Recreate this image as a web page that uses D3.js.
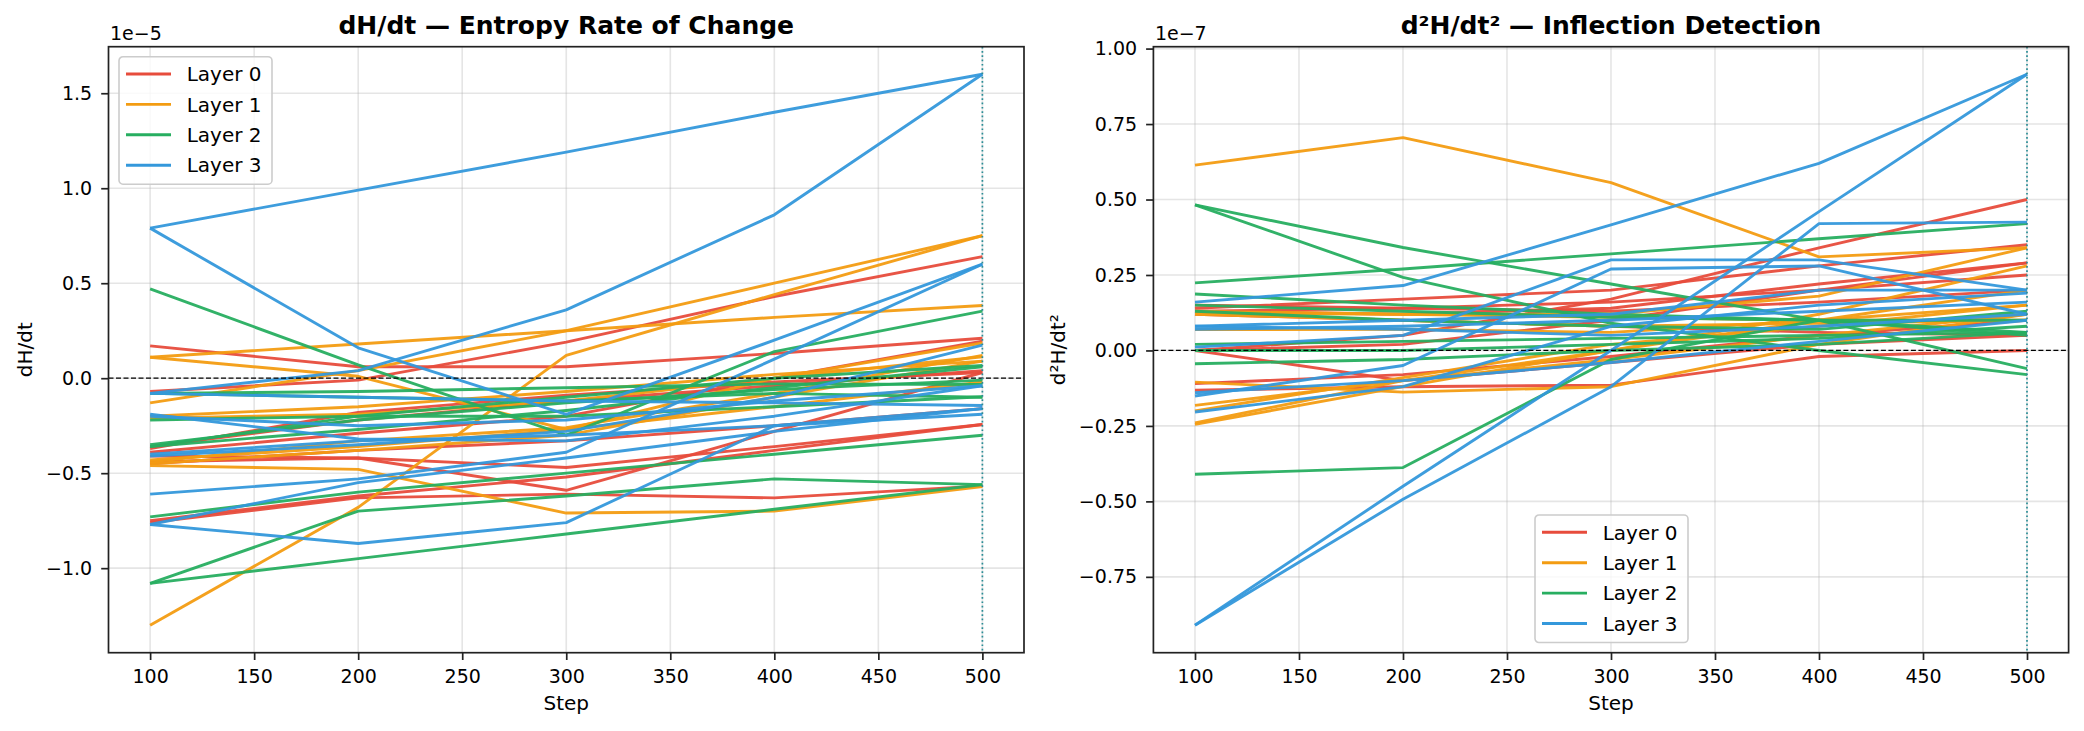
<!DOCTYPE html>
<html lang="en">
<head>
<meta charset="utf-8">
<title>Entropy derivatives</title>
<script src="https://cdn.jsdelivr.net/npm/d3@7"></script>
<style>
  body { margin: 0; background: #fff; }
  svg { display: block; font-family: "DejaVu Sans", sans-serif; }
</style>
</head>
<body>
<div id="chart"></div>
<script>
// ---- data ----
var steps = [100, 200, 300, 400, 500];
var layerNames = ["Layer 0", "Layer 1", "Layer 2", "Layer 3"];
var markerStep = 500;

// dH/dt, units of 1e-5, one row per head
var dHdt_L0 = [
    [0.17, 0.06, 0.06, 0.13, 0.21],
    [-0.07, -0.01, 0.19, 0.43, 0.64],
    [-0.37, -0.18, -0.09, -0.02, 0.03],
    [-0.39, -0.29, -0.20, 0.00, 0.195],
    [-0.44, -0.42, -0.47, -0.36, -0.244],
    [-0.76, -0.63, -0.61, -0.63, -0.567],
    [-0.75, -0.62, -0.52, -0.38, -0.244],
    [-0.41, -0.42, -0.59, -0.28, 0.03],
    [-0.36, -0.22, -0.12, -0.04, 0.04],
    [-0.45, -0.38, -0.33, -0.25, -0.16]
];
var dHdt_L1 = [
    [0.11, 0.18, 0.25, 0.32, 0.383],
    [-1.30, -0.68, 0.12, 0.44, 0.75],
    [-0.13, 0.04, 0.25, 0.50, 0.75],
    [0.11, 0.01, -0.27, 0.00, 0.185],
    [-0.21, -0.19, -0.12, 0.00, 0.113],
    [-0.45, -0.38, -0.30, -0.10, 0.09],
    [-0.46, -0.48, -0.71, -0.70, -0.57],
    [-0.44, -0.33, -0.26, -0.08, 0.12],
    [-0.43, -0.36, -0.27, -0.15, -0.02],
    [-0.20, -0.15, -0.07, 0.02, 0.09]
];
var dHdt_L2 = [
    [0.47, 0.07, -0.30, 0.14, 0.353],
    [-0.08, -0.07, -0.05, -0.03, -0.033],
    [-0.22, -0.20, -0.20, -0.15, -0.098],
    [-0.36, -0.20, -0.10, 0.00, 0.067],
    [-0.73, -0.60, -0.50, -0.40, -0.30],
    [-1.08, -0.70, -0.62, -0.53, -0.56],
    [-1.08, -0.95, -0.82, -0.69, -0.56],
    [-0.36, -0.27, -0.17, -0.05, 0.06],
    [-0.08, -0.10, -0.12, -0.08, -0.10],
    [-0.35, -0.22, -0.13, -0.06, -0.01]
];
var dHdt_L3 = [
    [0.79, 0.99, 1.19, 1.40, 1.60],
    [0.79, 0.16, -0.19, 0.20, 0.60],
    [-0.08, 0.04, 0.36, 0.86, 1.60],
    [-0.77, -0.87, -0.76, -0.25, -0.16],
    [-0.61, -0.53, -0.39, 0.10, 0.60],
    [-0.41, -0.35, -0.28, -0.10, 0.174],
    [-0.19, -0.32, -0.33, -0.20, -0.04],
    [-0.08, -0.10, -0.12, -0.13, -0.144],
    [-0.77, -0.55, -0.42, -0.28, -0.16],
    [-0.40, -0.33, -0.30, -0.25, -0.19],
    [-0.20, -0.25, -0.22, -0.12, -0.04]
];

// d2H/dt2, units of 1e-7
var d2H_L0 = [
    [0.00, 0.05, 0.17, 0.34, 0.50],
    [0.14, 0.17, 0.20, 0.28, 0.35],
    [0.13, 0.12, 0.14, 0.22, 0.29],
    [0.12, 0.10, 0.08, 0.06, 0.05],
    [0.00, -0.10, -0.04, 0.02, 0.05],
    [-0.132, -0.12, -0.115, -0.02, 0.00],
    [0.00, 0.02, 0.10, 0.20, 0.29],
    [0.15, 0.14, 0.13, 0.16, 0.20],
    [0.13, 0.14, 0.16, 0.20, 0.25],
    [-0.11, -0.08, -0.02, 0.05, 0.10]
];
var d2H_L1 = [
    [0.614, 0.705, 0.556, 0.31, 0.34],
    [0.123, 0.12, 0.11, 0.10, 0.10],
    [0.069, 0.07, 0.06, 0.10, 0.15],
    [-0.105, -0.138, -0.12, 0.02, 0.12],
    [-0.182, -0.10, -0.03, 0.05, 0.12],
    [-0.245, -0.12, 0.00, 0.10, 0.20],
    [-0.24, -0.10, 0.00, 0.12, 0.28],
    [0.13, 0.12, 0.12, 0.18, 0.34],
    [-0.20, -0.09, 0.02, 0.08, 0.15],
    [0.12, 0.10, 0.08, 0.09, 0.10]
];
var d2H_L2 = [
    [0.482, 0.341, 0.22, 0.10, -0.06],
    [0.482, 0.242, 0.09, 0.00, -0.08],
    [0.224, 0.27, 0.32, 0.37, 0.42],
    [0.187, 0.15, 0.12, 0.10, 0.05],
    [-0.41, -0.388, -0.03, 0.10, 0.06],
    [-0.044, -0.03, 0.00, 0.02, 0.06],
    [0.00, 0.00, 0.02, 0.04, 0.08],
    [0.13, 0.10, 0.08, 0.07, 0.13],
    [0.15, 0.13, 0.11, 0.10, 0.10],
    [0.02, 0.03, 0.04, 0.05, 0.06]
];
var d2H_L3 = [
    [0.16, 0.215, 0.416, 0.62, 0.915],
    [-0.91, -0.45, 0.00, 0.46, 0.915],
    [-0.91, -0.493, -0.12, 0.42, 0.425],
    [0.08, 0.10, 0.12, 0.20, 0.20],
    [0.08, 0.07, 0.05, 0.08, 0.12],
    [0.011, 0.05, 0.30, 0.30, 0.20],
    [-0.151, -0.05, 0.27, 0.28, 0.12],
    [-0.204, -0.12, 0.08, 0.15, 0.19],
    [0.07, 0.08, 0.10, 0.13, 0.16],
    [-0.14, -0.10, -0.04, 0.03, 0.10]
];

var xTicks = [100, 150, 200, 250, 300, 350, 400, 450, 500];
var dHdtTicks = [-1.0, -0.5, 0.0, 0.5, 1.0, 1.5];
var dHdtTickLabels = ["\u22121.0", "\u22120.5", "0.0", "0.5", "1.0", "1.5"];
var d2HTicks = [-0.75, -0.5, -0.25, 0.0, 0.25, 0.5, 0.75, 1.0];
var d2HTickLabels = ["\u22120.75", "\u22120.50", "\u22120.25", "0.00", "0.25", "0.50", "0.75", "1.00"];

// ---- styling / layout ----
var layerColors = ["#e74c3c", "#f39c12", "#27ae60", "#3498db"];
var W = 2084, H = 731;
var plotTop = 46.7, plotBottom = 652.7;
var lineWidth = 2.9;

var svg = d3.select("#chart").append("svg")
    .attr("width", W)
    .attr("height", H);

svg.append("rect").attr("width", W).attr("height", H).attr("fill", "#fff");

var panels = [
    {
        id: "p1", left: 108.5, right: 1024,
        layers: [dHdt_L0, dHdt_L1, dHdt_L2, dHdt_L3],
        yTicks: dHdtTicks, yTickLabels: dHdtTickLabels,
        title: "dH/dt \u2014 Entropy Rate of Change",
        ylabel: "dH/dt", ylabelX: 32, offset: "1e\u22125",
        legend: {x: 119, y: 56.7}
    },
    {
        id: "p2", left: 1153.4, right: 2068.6,
        layers: [d2H_L0, d2H_L1, d2H_L2, d2H_L3],
        yTicks: d2HTicks, yTickLabels: d2HTickLabels,
        title: "d\u00b2H/dt\u00b2 \u2014 Inflection Detection",
        ylabel: "d\u00b2H/dt\u00b2", ylabelX: 1065, offset: "1e\u22127",
        legend: {x: 1535, y: 515}
    }
];

panels.forEach(drawPanel);

/**
 * Draws one subplot: grid, head lines per layer, reference lines, axes, legend
 */
function drawPanel(p) {
    var g = svg.append("g");

    // matplotlib style 5% margins
    var xs = d3.extent(steps);
    var xPad = (xs[1] - xs[0]) * 0.05;
    var xScale = d3.scaleLinear()
        .domain([xs[0] - xPad, xs[1] + xPad])
        .range([p.left, p.right]);

    var all = [];
    p.layers.forEach(function (rows) {
        rows.forEach(function (r) { all = all.concat(r); });
    });
    var ys = d3.extent(all);
    var yPad = (ys[1] - ys[0]) * 0.05;
    var yScale = d3.scaleLinear()
        .domain([ys[0] - yPad, ys[1] + yPad])
        .range([plotBottom, plotTop]);

    g.append("clipPath").attr("id", "clip-" + p.id)
        .append("rect")
        .attr("x", p.left).attr("y", plotTop)
        .attr("width", p.right - p.left).attr("height", plotBottom - plotTop);

    // grid
    var grid = g.append("g")
        .attr("stroke", "#b0b0b0")
        .attr("stroke-opacity", 0.33)
        .attr("stroke-width", 1.6);
    grid.selectAll("line.vx")
        .data(xTicks)
        .enter()
        .append("line")
        .attr("x1", function (d) { return xScale(d); })
        .attr("x2", function (d) { return xScale(d); })
        .attr("y1", plotTop).attr("y2", plotBottom);
    grid.selectAll("line.hy")
        .data(p.yTicks)
        .enter()
        .append("line")
        .attr("y1", function (d) { return yScale(d); })
        .attr("y2", function (d) { return yScale(d); })
        .attr("x1", p.left).attr("x2", p.right);

    // one path per head, coloured by layer
    var line = d3.line()
        .x(function (d, i) { return xScale(steps[i]); })
        .y(function (d) { return yScale(d); });

    var plot = g.append("g").attr("clip-path", "url(#clip-" + p.id + ")");
    p.layers.forEach(function (rows, li) {
        plot.selectAll(null)
            .data(rows)
            .enter()
            .append("path")
            .attr("d", line)
            .attr("fill", "none")
            .attr("stroke", layerColors[li])
            .attr("stroke-opacity", 0.95)
            .attr("stroke-width", lineWidth)
            .attr("stroke-linejoin", "round");
    });

    // zero line and marker step
    plot.append("line")
        .attr("x1", p.left).attr("x2", p.right)
        .attr("y1", yScale(0)).attr("y2", yScale(0))
        .attr("stroke", "#000")
        .attr("stroke-width", 1.2)
        .attr("stroke-dasharray", "5,2.5");
    plot.append("line")
        .attr("x1", xScale(markerStep)).attr("x2", xScale(markerStep))
        .attr("y1", plotTop).attr("y2", plotBottom)
        .attr("stroke", "#2a8d96")
        .attr("stroke-width", 1.7)
        .attr("stroke-dasharray", "1.7,2.6");

    // axes
    var xAxis = d3.axisBottom(xScale)
        .tickValues(xTicks)
        .tickSize(7.3)
        .tickSizeOuter(0)
        .tickPadding(9.5);
    var yAxis = d3.axisLeft(yScale)
        .tickValues(p.yTicks)
        .tickFormat(function (d, i) { return p.yTickLabels[i]; })
        .tickSize(7.3)
        .tickSizeOuter(0)
        .tickPadding(9);

    var gx = g.append("g")
        .attr("transform", "translate(0," + plotBottom + ")")
        .call(xAxis);
    var gy = g.append("g")
        .attr("transform", "translate(" + p.left + ",0)")
        .call(yAxis);
    [gx, gy].forEach(function (a) {
        a.select(".domain").remove();
        a.selectAll(".tick line").attr("stroke", "#222").attr("stroke-width", 1.7);
        a.selectAll(".tick text")
            .attr("fill", "#000")
            .style("font-family", "DejaVu Sans")
            .style("font-size", "19px");
    });

    // frame
    g.append("rect")
        .attr("x", p.left).attr("y", plotTop)
        .attr("width", p.right - p.left).attr("height", plotBottom - plotTop)
        .attr("fill", "none")
        .attr("stroke", "#222")
        .attr("stroke-width", 1.7);

    // texts
    g.append("text")
        .attr("x", (p.left + p.right) / 2).attr("y", 34)
        .attr("text-anchor", "middle")
        .style("font-size", "25px")
        .style("font-weight", "bold")
        .text(p.title);
    g.append("text")
        .attr("x", p.left + 1.5).attr("y", 40)
        .style("font-size", "19px")
        .text(p.offset);
    g.append("text")
        .attr("x", (p.left + p.right) / 2).attr("y", 710)
        .attr("text-anchor", "middle")
        .style("font-size", "20px")
        .text("Step");
    g.append("text")
        .attr("text-anchor", "middle")
        .attr("transform", "translate(" + p.ylabelX + "," + ((plotTop + plotBottom) / 2) + ")rotate(-90)")
        .style("font-size", "20px")
        .text(p.ylabel);

    // legend
    var lg = g.append("g").attr("transform", "translate(" + p.legend.x + "," + p.legend.y + ")");
    lg.append("rect")
        .attr("width", 153).attr("height", 127.5)
        .attr("rx", 4).attr("ry", 4)
        .attr("fill", "#fff").attr("fill-opacity", 0.8)
        .attr("stroke", "#cccccc").attr("stroke-width", 1.6);
    var items = lg.selectAll("g.item")
        .data(layerNames)
        .enter()
        .append("g")
        .attr("transform", function (d, i) { return "translate(0," + (17.3 + i * 30.4) + ")"; });
    items.append("line")
        .attr("x1", 7).attr("x2", 52)
        .attr("stroke", function (d, i) { return layerColors[i]; })
        .attr("stroke-width", lineWidth);
    items.append("text")
        .attr("x", 67.7)
        .attr("dy", "0.36em")
        .style("font-size", "20px")
        .text(function (d) { return d; });
}
</script>
</body>
</html>
